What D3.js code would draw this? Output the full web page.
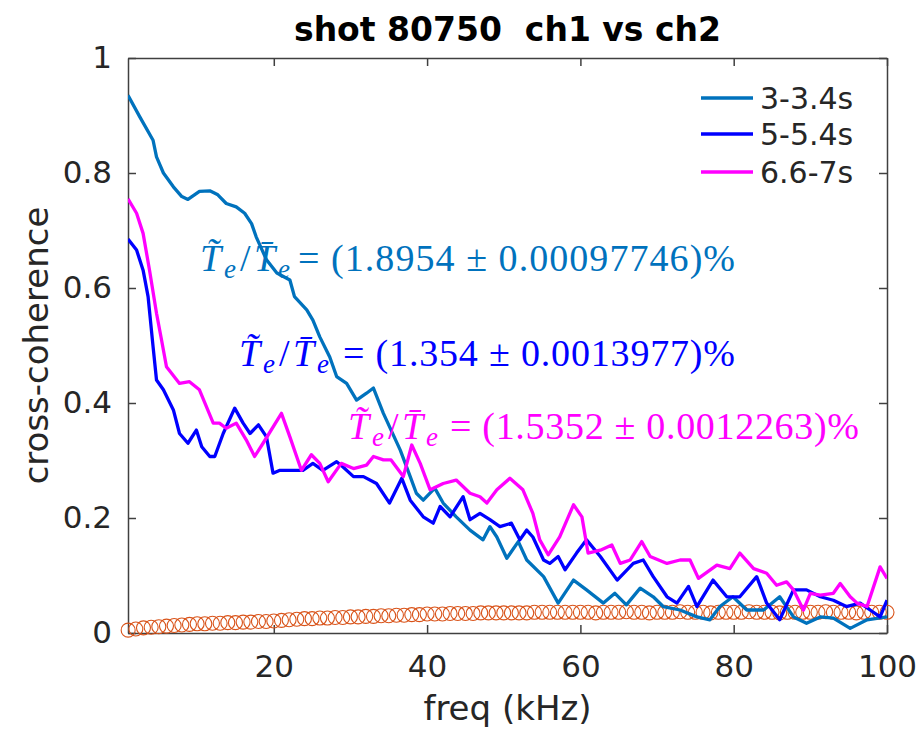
<!DOCTYPE html>
<html>
<head>
<meta charset="utf-8">
<script src="https://cdn.jsdelivr.net/npm/d3@7/dist/d3.min.js"></script>
<style>
  body { margin: 0; background: #fff; }
  text { font-family: "DejaVu Sans", sans-serif; fill: #262626; }
</style>
</head>
<body>
<script>

// coherence per window, [freq kHz, value]
var win1 = [[0.98,0.935],[2.5,0.898],[4.25,0.857],[4.7,0.828],[5.6,0.80],[6.9,0.776],[8.0,0.759],[8.8,0.754],[10.3,0.768],[11.65,0.769],[12.7,0.762],[13.8,0.747],[15.1,0.741],[16.2,0.73],[17.1,0.712],[17.7,0.689],[19.05,0.649],[20.4,0.626],[22.1,0.614],[22.7,0.585],[24.3,0.562],[25.1,0.544],[26,0.515],[27.3,0.48],[28.2,0.446],[29.5,0.434],[30.8,0.405],[32.1,0.417],[33,0.426],[34.3,0.382],[36.5,0.318],[37.8,0.272],[38.6,0.243],[39.5,0.231],[41,0.252],[42.1,0.226],[43.8,0.202],[45.6,0.179],[47.3,0.162],[48.2,0.185],[49.1,0.167],[50.4,0.13],[51.9,0.159],[53,0.127],[55.2,0.098],[57.1,0.052],[59.1,0.092],[60.8,0.075],[63,0.052],[64.5,0.069],[66,0.049],[67.8,0.078],[69.5,0.063],[70.8,0.046],[73,0.04],[75.2,0.028],[76.9,0.023],[78.2,0.046],[79.9,0.063],[81.7,0.04],[83.9,0.04],[86,0.063],[87.8,0.028],[89.5,0.017],[91.3,0.028],[93,0.026],[95.2,0.008],[97.4,0.023],[100,0.028]];

var win2 = [[0.98,0.685],[2.1,0.666],[2.95,0.631],[3.6,0.585],[4.25,0.498],[4.7,0.44],[5.6,0.423],[6.9,0.388],[7.7,0.347],[8.8,0.33],[9.9,0.353],[10.6,0.324],[11.65,0.307],[12.3,0.307],[13.4,0.347],[14.9,0.391],[16,0.365],[16.9,0.347],[18,0.362],[19.05,0.341],[19.9,0.278],[20.8,0.283],[22.5,0.283],[23.8,0.283],[25.1,0.295],[26.4,0.283],[28.2,0.298],[29,0.289],[30.4,0.272],[31.7,0.272],[33.4,0.26],[35.1,0.226],[36.7,0.269],[37.8,0.231],[39.5,0.202],[40.8,0.191],[41.7,0.22],[43,0.202],[44.7,0.237],[45.6,0.197],[46.9,0.208],[48.2,0.197],[49.5,0.185],[51,0.191],[52.1,0.162],[53,0.179],[53.8,0.167],[55.2,0.127],[56,0.121],[57.1,0.133],[58,0.11],[59.5,0.139],[60.8,0.162],[62.6,0.133],[64.8,0.092],[66.9,0.121],[68.2,0.127],[69.5,0.098],[71.3,0.063],[72.6,0.052],[74.1,0.081],[75.2,0.046],[77.3,0.092],[79.1,0.063],[80.8,0.063],[83,0.098],[84.3,0.052],[86,0.023],[87.8,0.075],[89.5,0.075],[91.3,0.063],[93,0.057],[94.7,0.046],[96.5,0.052],[97.8,0.04],[99.1,0.028],[100,0.057]];

var win3 = [[0.98,0.755],[2.1,0.73],[2.95,0.695],[3.8,0.63],[4.7,0.556],[5.35,0.51],[6,0.463],[7.7,0.434],[9,0.437],[10.3,0.423],[12.1,0.365],[12.9,0.365],[13.8,0.356],[15.1,0.365],[16.4,0.336],[17.5,0.307],[18.6,0.33],[21,0.382],[22.1,0.341],[23.6,0.283],[24.9,0.31],[26,0.295],[27.1,0.263],[28.8,0.295],[30.4,0.286],[32.1,0.292],[33,0.307],[34.3,0.301],[35.3,0.301],[36.9,0.272],[38,0.327],[39.1,0.295],[40.4,0.249],[42.1,0.26],[43.8,0.266],[45.6,0.243],[46.9,0.237],[47.8,0.226],[49.1,0.249],[50.8,0.269],[52.5,0.249],[53.8,0.208],[54.7,0.162],[55.8,0.136],[57.3,0.167],[59.1,0.223],[60.2,0.202],[61,0.139],[62.6,0.144],[64.1,0.153],[65.2,0.121],[66.5,0.127],[68,0.159],[69.1,0.133],[71.3,0.121],[73,0.127],[74.3,0.127],[75.4,0.095],[77.8,0.118],[79.5,0.112],[80.8,0.139],[82.6,0.112],[84.3,0.104],[85.6,0.083],[86.9,0.089],[87.8,0.075],[89.1,0.04],[90,0.069],[91.3,0.066],[93,0.069],[93.9,0.086],[95.2,0.063],[96.1,0.052],[97.4,0.046],[99.1,0.115],[100,0.095]];

// noise level (circles)
var noiseFreq = [1,2,3,4,5,6,7,8,9,10,11,12,13,14,15,16,17,18,19,20,21,22,23,24,25,26,27,28,29,30,31,32,33,34,35,36,37,38,39,40,41,42,43,44,45,46,47,48,49,50,51,52,53,54,55,56,57,58,59,60,61,62,63,64,65,66,67,68,69,70,71,72,73,74,75,76,77,78,79,80,81,82,83,84,85,86,87,88,89,90,91,92,93,94,95,96,97,98,99,100];
var noiseVal = [0.005,0.007,0.009,0.010,0.011,0.012,0.013,0.014,0.015,0.016,0.016,0.017,0.017,0.018,0.018,0.019,0.019,0.020,0.020,0.021,0.022,0.023,0.024,0.025,0.025,0.026,0.026,0.027,0.027,0.028,0.028,0.029,0.029,0.030,0.030,0.031,0.031,0.032,0.032,0.033,0.033,0.033,0.034,0.034,0.034,0.034,0.035,0.035,0.035,0.035,0.035,0.035,0.035,0.036,0.036,0.036,0.036,0.036,0.036,0.036,0.036,0.035,0.036,0.036,0.036,0.037,0.036,0.036,0.035,0.036,0.036,0.036,0.037,0.036,0.036,0.036,0.035,0.036,0.036,0.036,0.036,0.037,0.036,0.036,0.036,0.035,0.036,0.036,0.036,0.036,0.036,0.037,0.036,0.036,0.036,0.035,0.036,0.036,0.036,0.036];

var legendNames = ["3-3.4s", "5-5.4s", "6.6-7s"];
var ratioVal = ["1.8954", "1.354", "1.5352"];
var ratioErr = ["0.00097746", "0.0013977", "0.0012263"];
var xTicks = [20, 40, 60, 80, 100];
var yTicks = [0, 0.2, 0.4, 0.6, 0.8, 1];

var margin = { top: 58, right: 37, bottom: 98, left: 128 },
    width = 924 - margin.left - margin.right,
    height = 731 - margin.top - margin.bottom;

var colors = ["#0072BD", "#0000FF", "#FF00FF"];

var x = d3.scaleLinear().domain([0.98, 100]).range([0, width]);
var y = d3.scaleLinear().domain([0, 1]).range([height, 0]);

var svg = d3.select("body").append("svg")
    .attr("width", 924)
    .attr("height", 731);

var g = svg.append("g")
    .attr("transform", "translate(" + margin.left + "," + margin.top + ")");

g.append("clipPath").attr("id", "clip")
    .append("rect").attr("width", width).attr("height", height);

// axes, ticks inside on all four sides
function styleAxis(sel) {
    sel.selectAll("path, line").attr("stroke", "#404040").attr("stroke-width", 1.5);
    sel.selectAll("text").attr("fill", "#262626").style("font-size", "31px")
        .style("font-family", "DejaVu Sans");
}
g.append("g").attr("transform", "translate(0," + height + ")")
    .call(d3.axisBottom(x).tickValues(xTicks).tickSize(-8).tickSizeOuter(0).tickPadding(22))
    .call(styleAxis);
g.append("g")
    .call(d3.axisTop(x).tickValues(xTicks).tickSize(-8).tickSizeOuter(0).tickFormat(""))
    .call(styleAxis);
g.append("g")
    .call(d3.axisLeft(y).tickValues(yTicks).tickSize(-8).tickSizeOuter(0).tickPadding(16)
        .tickFormat(function (d) { return String(d); }))
    .call(styleAxis);
g.append("g").attr("transform", "translate(" + width + ",0)")
    .call(d3.axisRight(y).tickValues(yTicks).tickSize(-8).tickSizeOuter(0).tickFormat(""))
    .call(styleAxis);

// noise circles
g.selectAll("circle.noise")
    .data(noiseFreq)
    .enter().append("circle")
    .attr("class", "noise")
    .attr("cx", function (d) { return x(d); })
    .attr("cy", function (d, i) { return y(noiseVal[i]); })
    .attr("r", 7)
    .attr("fill", "none")
    .attr("stroke", "#D95319")
    .attr("stroke-width", 1.1);

var line = d3.line()
    .x(function (d) { return x(d[0]); })
    .y(function (d) { return y(d[1]); });

[win1, win2, win3].forEach(function (s, i) {
    g.append("path")
        .datum(s)
        .attr("clip-path", "url(#clip)")
        .attr("fill", "none")
        .attr("stroke", colors[i])
        .attr("stroke-width", 3.3)
        .attr("stroke-linejoin", "round")
        .attr("d", line);
});

// annotations  Te~/Te- = (a ± b)%
var notePos = [[200, 271, 298, 735], [239, 366, 343, 735], [348, 439, 450, 859]];
notePos.forEach(function (p, i) {
    var t = svg.append("g").attr("transform", "translate(" + p[0] + "," + p[1] + ")");
    var serif = "Liberation Serif";
    function put(str, dx, dy, size, italic) {
        t.append("text").attr("x", dx).attr("y", dy).text(str)
            .style("font-family", serif).style("font-size", size + "px")
            .style("font-style", italic ? "italic" : "normal")
            .style("fill", colors[i]);
    }
    put("T\u0303", 0, 0, 38, true);
    put("e", 24, 7, 27, true);
    put("/", 40, 0, 38, false);
    put("T\u0304", 54, 0, 38, true);
    put("e", 78, 7, 27, true);
    svg.append("text")
        .attr("x", p[2]).attr("y", p[1])
        .attr("textLength", p[3] - p[2])
        .attr("lengthAdjust", "spacing")
        .style("font-family", serif).style("font-size", "38px")
        .style("fill", colors[i])
        .text("= (" + ratioVal[i] + " \u00B1 " + ratioErr[i] + ")%");
});

// legend
legendNames.forEach(function (name, i) {
    var ly = [98, 134, 172][i];
    svg.append("line")
        .attr("x1", 701).attr("x2", 753).attr("y1", ly).attr("y2", ly)
        .attr("stroke", colors[i]).attr("stroke-width", 3.5);
    svg.append("text")
        .attr("x", 760).attr("y", ly)
        .attr("dominant-baseline", "central")
        .style("font-size", "30px")
        .text(name);
});

// title and labels
svg.append("text")
    .attr("x", margin.left + width / 2).attr("y", 41)
    .attr("text-anchor", "middle")
    .style("font-size", "33px").style("font-weight", "bold")
    .style("white-space", "pre")
    .style("fill", "#000")
    .text("shot 80750  ch1 vs ch2");

svg.append("text")
    .attr("x", margin.left + width / 2).attr("y", 720)
    .attr("text-anchor", "middle")
    .style("font-size", "34px")
    .text("freq (kHz)");

svg.append("text")
    .attr("transform", "translate(48," + (margin.top + height / 2) + ") rotate(-90)")
    .attr("text-anchor", "middle")
    .style("font-size", "34px")
    .text("cross-coherence");

</script>
</body>
</html>
